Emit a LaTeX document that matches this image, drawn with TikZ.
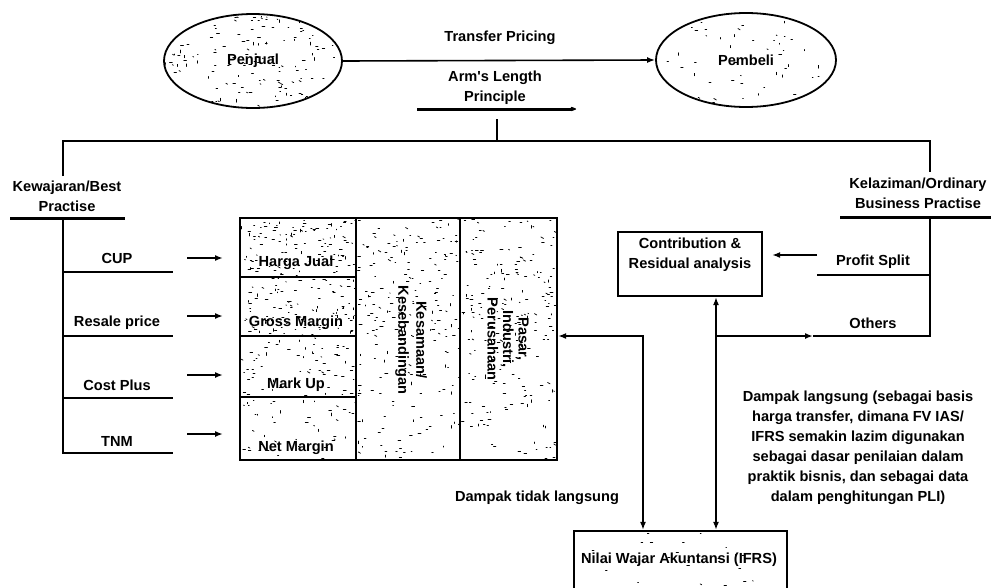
\documentclass[tikz,border=0pt]{standalone}
\usepackage{fontspec}
\setmainfont{Liberation Sans}[Ligatures=TeXOff]
\usetikzlibrary{arrows.meta,shapes.geometric}

% scattered short dashes used as a stipple fill
\newcommand\speckles[6]{%
  \pgfmathsetseed{#1}%
  \foreach \k in {1,...,#2}{%
    \pgfmathsetmacro\spx{#3+rnd*(#4-#3)}%
    \pgfmathsetmacro\spy{#5+rnd*(#6-#5)}%
    \pgfmathsetmacro\spl{0.6+2.4*rnd}%
    \pgfmathsetmacro\spa{rnd<0.7 ? 0 : (rnd<0.5 ? 90 : 30)}%
    \draw[speck] (\spx,\spy) -- ++(\spa:\spl);
  }%
}

\tikzset{
  txt/.style={font=\fontsize{14.6}{20}\selectfont\bfseries},
  lbl/.style={txt, inner sep=0pt, align=center},
  party/.style={ellipse, draw, line width=1.8pt, inner sep=0pt, txt},
  cell/.style={draw, line width=2.2pt, inner sep=0pt},
  conn/.style={line width=1.6pt},
  bar/.style={line width=3pt},
  tip/.style={-{Latex[length=8pt,width=6pt]}},
  both/.style={{Latex[length=8pt,width=6pt]}-{Latex[length=8pt,width=6pt]}},
  speck/.style={line width=0.75pt, line cap=round},
}

\begin{document}
\begin{tikzpicture}[x=1pt,y=-1pt]
\useasboundingbox (0,0) rectangle (991,587);
\clip (0,0) rectangle (991,587);

% ---- stipple fills -------------------------------------------------
\begin{scope}\clip (253,61) ellipse [x radius=88, y radius=46];
  \speckles{3}{150}{165}{341}{15}{107}\end{scope}
\begin{scope}\clip (746,60) ellipse [x radius=89, y radius=46];
  \speckles{5}{55}{657}{835}{14}{106}\end{scope}
\begin{scope}\clip (241,219) rectangle (355,276);
  \speckles{7}{110}{241}{355}{219}{276}\end{scope}
\begin{scope}\clip (241,278) rectangle (355,335);
  \speckles{9}{110}{241}{355}{278}{335}\end{scope}
\begin{scope}\clip (241,337) rectangle (355,396);
  \speckles{13}{65}{241}{355}{337}{396}\end{scope}
\begin{scope}\clip (241,398) rectangle (355,459);
  \speckles{17}{45}{241}{355}{398}{459}\end{scope}
\begin{scope}\clip (357,219) rectangle (459,459);
  \speckles{19}{140}{357}{459}{219}{340}
  \speckles{23}{70}{357}{459}{340}{459}\end{scope}
\begin{scope}\clip (461,219) rectangle (556,459);
  \speckles{29}{130}{461}{556}{219}{340}
  \speckles{31}{70}{461}{556}{340}{459}\end{scope}
\begin{scope}\clip (575,532) rectangle (786,587);
  \speckles{37}{22}{575}{786}{532}{587}\end{scope}

% ---- trading parties -----------------------------------------------
\node[party, minimum width=178pt, minimum height=94pt] (penjual) at (253,61) {Penjual};
\node[party, minimum width=180pt, minimum height=94pt] (pembeli) at (746,60) {Pembeli};
\draw[conn, tip] (penjual.east) -- (pembeli.west);
\node[lbl] (tp) at (500,38) {Transfer Pricing};
\node[lbl] (alp) at (495,88) {Arm's Length\\Principle};

\coordinate (alL) at (417,109);
\coordinate (alR) at (576,109);
\draw[bar, -{Stealth[length=8pt,width=6pt,round]}] (alL) -- (alR);

% ---- main split --------------------------------------------------
\coordinate (drop) at (497,119);
\coordinate (hL) at (63,141);
\coordinate (hR) at (930,141);
\coordinate (kewTop) at (63,176);
\coordinate (kelTop) at (930,172);
\draw[conn] (drop) -- (drop |- hL);
\draw[conn] (kewTop) -- (hL) -- (hR) -- (kelTop);

% ---- left branch: methods ----------------------------------------
\node[lbl, align=center] (kew) at (67,196) {Kewajaran/Best\\Practise};
\coordinate (kewL) at (10,218);
\coordinate (kewR) at (125,218);
\draw[bar] (kewL) -- (kewR);

\coordinate (trunk) at (63,218);
\coordinate (cupEnd) at (173,272);
\coordinate (rpEnd) at (173,336);
\coordinate (cpEnd) at (173,398);
\coordinate (tnmEnd) at (173,453);
\draw[conn] (trunk) -- (trunk |- tnmEnd) -- (tnmEnd);
\draw[conn] (trunk |- cupEnd) -- (cupEnd);
\draw[conn] (trunk |- rpEnd) -- (rpEnd);
\draw[conn] (trunk |- cpEnd) -- (cpEnd);

\node[lbl] (cup) at (117,258) {CUP};
\node[lbl] (rp) at (117,323) {Resale price};
\node[lbl] (cp) at (117,385) {Cost Plus};
\node[lbl] (tnm) at (117,441) {TNM};

\coordinate (a1) at (187,258);
\coordinate (a2) at (187,316);
\coordinate (a3) at (187,375);
\coordinate (a4) at (187,434);
\foreach \a in {a1,a2,a3,a4}
  \draw[conn, tip] (\a) -- ++(36,0);

% ---- comparability table -----------------------------------------
\node[cell, minimum width=116pt, minimum height=59pt] (hj) at (298,247.5) {};
\node[cell, minimum width=116pt, minimum height=59pt] (gm) at (298,306.5) {};
\node[cell, minimum width=116pt, minimum height=61pt] (mu) at (298,366.5) {};
\node[cell, minimum width=116pt, minimum height=63pt] (nm) at (298,428.5) {};
\node[cell, minimum width=104pt, minimum height=242pt] (col2) at (408,339) {};
\node[cell, minimum width=97pt, minimum height=242pt] (col3) at (508.5,339) {};

\node[lbl] (hjT) at (296,263) {Harga Jual};
\node[lbl] (gmT) at (296,323) {Gross Margin};
\node[lbl] (muT) at (296,385) {Mark Up};
\node[lbl] (nmT) at (296,448) {Net Margin};
\node[lbl, rotate=-90, font=\fontsize{14.6}{18}\selectfont\bfseries] (col2T) at (411,340) {Kesamaan/\\Kesebandingan};
\node[lbl, rotate=-90, font=\fontsize{14.6}{15.5}\selectfont\bfseries] (col3T) at (508,339) {Pasar,\\Industri,\\Perusahaan};

% ---- right branch: profit methods --------------------------------
\node[lbl] (kel) at (918,193) {Kelaziman/Ordinary\\Business Practise};
\coordinate (kelL) at (840,217);
\coordinate (kelR) at (991,217);
\draw[bar] (kelL) -- (kelR);

\node[cell, minimum width=144pt, minimum height=64pt] (contrib) at (690,264) {};
\node[lbl] (contribT) at (690,255) {Contribution \&\\Residual analysis};

\coordinate (rtrunk) at (930,217);
\coordinate (psL) at (817,275);
\coordinate (othEnd) at (930,336);
\coordinate (othTip) at (813,336);
\coordinate (psA) at (817,255);
\draw[conn] (rtrunk) -- (othEnd) -- (othTip);
\draw[conn] (rtrunk |- psL) -- (psL);
\node[lbl] (ps) at (873,262) {Profit Split};
\node[lbl] (oth) at (873,323) {Others};
\draw[conn, tip, shorten >=9pt] (psA) -- (contrib.east |- psA);

% ---- links to fair value -----------------------------------------
\node[cell, minimum width=213pt, minimum height=58pt] (nilai) at (680.5,560) {};
\node[lbl] (nilaiT) at (679,560) {Nilai Wajar Akuntansi (IFRS)};

\coordinate (vx1) at (643,336);
\coordinate (vx2) at (716,336);
\draw[conn, both] (col3.east |- vx1) -- (vx1) -- (vx1 |- nilai.north);
\draw[conn, both] (vx2 |- contrib.south) -- (vx2 |- nilai.north);
\draw[conn, tip] (vx2) -- (othTip);

\node[lbl] (tidak) at (537,498) {Dampak tidak langsung};
\node[lbl] (langsung) at (858,448) {Dampak langsung (sebagai basis\\harga transfer, dimana FV IAS/\\IFRS semakin lazim digunakan\\sebagai dasar penilaian dalam\\praktik bisnis, dan sebagai data\\dalam penghitungan PLI)};
\end{tikzpicture}
\end{document}
